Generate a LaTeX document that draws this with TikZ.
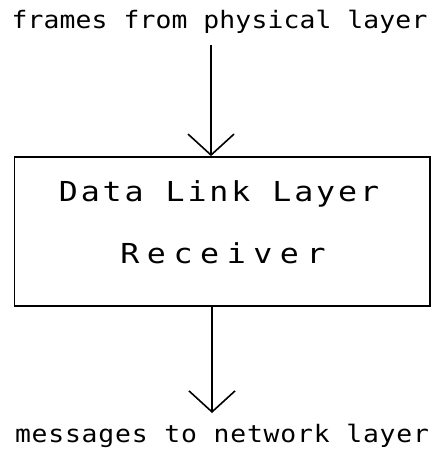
\documentclass[tikz,border=0pt]{standalone}
\usepackage{fontspec}
\setmonofont{DejaVu Sans Mono}
\newfontfamily\widemono[FakeStretch=1.1]{DejaVu Sans Mono}
\newfontfamily\widermono[FakeStretch=1.15]{DejaVu Sans Mono}
\usetikzlibrary{arrows.meta}

\tikzset{
  wire/.style={line width=1.7pt, -{Straight Barb[length=21pt, width=46pt, line width=1.6pt]}},
  frame/.style={draw, line width=1.7pt, inner sep=0pt, minimum width=415.5pt, minimum height=149pt},
  label/.style={anchor=base, inner sep=0pt},
}

\begin{document}
\begin{tikzpicture}[x=1pt, y=-1pt]
  \useasboundingbox (0,0) rectangle (439,469);

  % incoming frames and outgoing messages
  \node[label] (src) at (219.5,28)
    {\widemono\fontsize{24}{28}\selectfont\addfontfeatures{LetterSpace=0.5}frames from physical layer};
  \node[label] (dst) at (222,442)
    {\widemono\fontsize{24}{28}\selectfont\addfontfeatures{LetterSpace=3.3}messages to network layer};

  % the receiver block
  \node[frame] (box) at (222.25,231.5) {};
  \node[label] (t1) at (219,201)
    {\widermono\fontsize{27.5}{32}\selectfont\addfontfeatures{LetterSpace=10.5}Data Link Layer};
  \node[label] (t2) at (223,263)
    {\widermono\fontsize{27.5}{32}\selectfont\addfontfeatures{LetterSpace=27.5}Receiver};

  % connectors
  \coordinate (inTop) at (211,45);
  \coordinate (outTip) at (212,413);
  \draw[wire] (inTop) -- (inTop |- box.north);
  \draw[wire] (outTip |- box.south) -- (outTip);
\end{tikzpicture}
\end{document}
